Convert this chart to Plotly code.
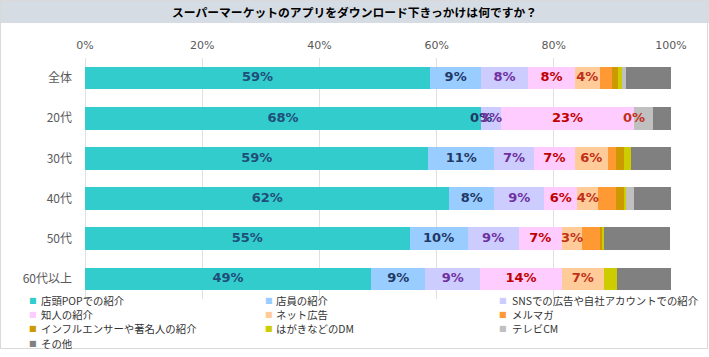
import plotly.graph_objects as go

# ---------------- data ----------------
categories = ["全体", "20代", "30代", "40代", "50代", "60代以上"]

series_names = [
    "店頭POPでの紹介", "店員の紹介", "SNSでの広告や自社アカウントでの紹介",
    "知人の紹介", "ネット広告", "メルマガ",
    "インフルエンサーや著名人の紹介", "はがきなどのDM", "テレビCM",
    "その他",
]

pop_values = [58.9, 67.6, 58.6, 62.2, 55.4, 48.8]
staff_values = [8.7, 0.0, 11.2, 7.6, 9.9, 9.3]
sns_values = [8.0, 3.4, 6.8, 8.6, 8.7, 9.3]
friend_values = [8.0, 22.7, 7.0, 5.6, 7.4, 14.0]
web_ad_values = [4.2, 0.0, 5.6, 3.6, 3.4, 7.1]
mailmag_values = [2.2, 0.0, 1.4, 3.0, 3.1, 0.0]
influencer_values = [0.9, 0.0, 1.3, 1.3, 0.3, 0.0]
postcard_values = [0.8, 0.0, 1.3, 0.5, 0.4, 2.3]
tvcm_values = [0.6, 3.2, 0.0, 1.3, 0.0, 0.0]
other_values = [7.8, 3.1, 6.8, 6.4, 11.3, 9.2]

series_values = [
    pop_values, staff_values, sns_values, friend_values, web_ad_values,
    mailmag_values, influencer_values, postcard_values, tvcm_values, other_values,
]

series_colors = [
    "#33cccc", "#99ccff", "#ccccff", "#ffccff", "#ffcc99",
    "#ff9933", "#cc9900", "#cccc00", "#c0c0c0", "#808080",
]
label_colors = ["#1f4e79", "#1f3864", "#7030a0", "#c00000", "#c0311a"]
n_labeled = 5

tick_values = [0, 20, 40, 60, 80, 100]
tick_labels = ["0%", "20%", "40%", "60%", "80%", "100%"]

title_text = "スーパーマーケットのアプリをダウンロード下きっかけは何ですか？"

# ---------------- layout helpers ----------------
FW, FH = 709, 357
L, R, T, B = 85, 38, 58, 58
PW, PH = FW - L - R, FH - T - B


def px_x(p):
    return (p - L) / PW


def px_y(p):
    return 1 - (p - T) / PH


fig = go.Figure()

# stacked bars
for name, vals, col in zip(series_names, series_values, series_colors):
    fig.add_trace(go.Bar(
        name=name, y=categories, x=vals, orientation="h",
        marker=dict(color=col, line=dict(width=0)),
        width=0.565, showlegend=False,
        hovertemplate="%{y}: %{x:.1f}%<extra>" + name + "</extra>",
    ))

# data labels (first five series), centred in each segment
cum = [0.0] * len(categories)
for k, vals in enumerate(series_values):
    if k < n_labeled:
        mids = [c + v / 2 for c, v in zip(cum, vals)]
        fig.add_trace(go.Scatter(
            x=mids, y=categories, mode="text",
            text=[f"{v:.0f}%" for v in vals],
            textposition="middle center",
            textfont=dict(family="DejaVu Sans", size=13, color=label_colors[k], weight="bold"),
            showlegend=False, hoverinfo="skip", cliponaxis=False,
        ))
    cum = [c + v for c, v in zip(cum, vals)]

# ---------------- decorations ----------------
shapes = [
    dict(type="rect", xref="paper", yref="paper",
         x0=px_x(0), x1=px_x(FW), y0=px_y(0), y1=px_y(23),
         fillcolor="#d6dce4", line=dict(width=0), layer="below"),
    dict(type="rect", xref="paper", yref="paper",
         x0=px_x(0.5), x1=px_x(707.5), y0=px_y(0.5), y1=px_y(348.5),
         line=dict(color="#d9d9d9", width=1), fillcolor="rgba(0,0,0,0)", layer="below"),
]

annotations = [
    dict(text="<b>" + title_text + "</b>", xref="paper", yref="paper",
         x=px_x(354.5), y=px_y(11.5), xanchor="center", yanchor="middle",
         showarrow=False, font=dict(family="Noto Sans CJK JP", size=11.8, color="#000000")),
]

# legend (3 columns, row-major)
col_marker_x = [32.5, 268.5, 503.0]
col_text_x = [38.5, 274.0, 510.0]
row_y = [300.0, 314.3, 328.3, 343.0]
for i, (name, col) in enumerate(zip(series_names, series_colors)):
    r, c = divmod(i, 3)
    annotations.append(dict(
        text="■", xref="paper", yref="paper",
        x=px_x(col_marker_x[c]), y=px_y(row_y[r]), xanchor="center", yanchor="middle",
        showarrow=False, font=dict(family="DejaVu Sans", size=8, color=col)))
    annotations.append(dict(
        text=name, xref="paper", yref="paper",
        x=px_x(col_text_x[c]), y=px_y(row_y[r]), xanchor="left", yanchor="middle",
        showarrow=False, font=dict(family="Noto Sans CJK JP", size=10.4, color="#333333")))

fig.update_layout(
    width=FW, height=FH,
    margin=dict(l=L, r=R, t=T, b=B, autoexpand=False),
    barmode="stack", bargap=0.435,
    paper_bgcolor="#ffffff", plot_bgcolor="#ffffff",
    showlegend=False,
    shapes=shapes, annotations=annotations,
    xaxis=dict(
        side="top", range=[0, 100], tickvals=tick_values, ticktext=tick_labels,
        showgrid=True, gridcolor="#e0e0e0", gridwidth=1,
        zeroline=True, zerolinecolor="#e0e0e0", zerolinewidth=1, showline=False,
        ticks="", ticklabelstandoff=6,
        tickfont=dict(family="DejaVu Sans", size=11, color="#595959"),
        fixedrange=True,
    ),
    yaxis=dict(
        categoryorder="array", categoryarray=categories, autorange="reversed",
        showgrid=False, zeroline=False, showline=False, ticks="",
        ticklabelstandoff=12,
        tickfont=dict(family="Noto Sans CJK JP", size=12, color="#595959"),
        fixedrange=True,
    ),
)

fig.write_html(
    "out.html",
    config={"displayModeBar": False},
    post_script="document.body.style.margin='0px';",
)
